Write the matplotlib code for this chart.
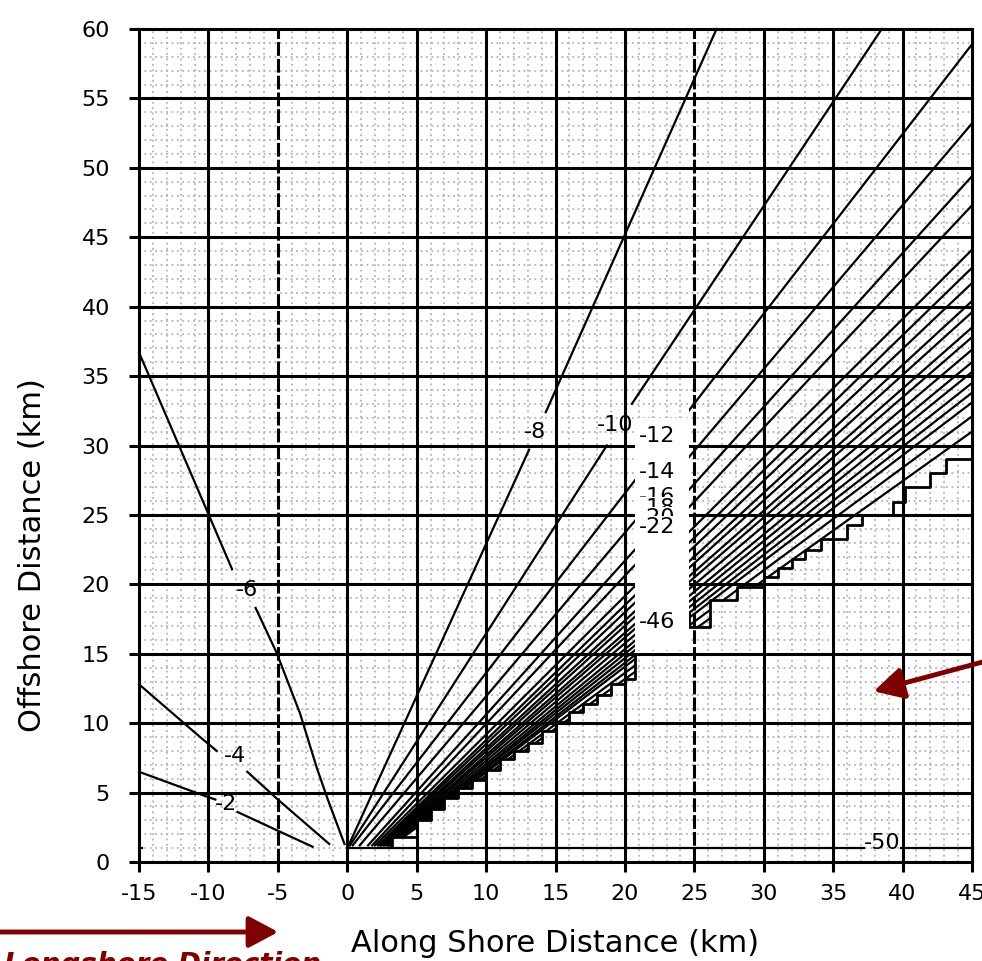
import numpy as np
import matplotlib
matplotlib.use("Agg")
import matplotlib.pyplot as plt
from matplotlib.patches import Polygon, Rectangle

plt.rcParams["font.family"] = ["DejaVu Sans"]
plt.rcParams["axes.unicode_minus"] = False

nan = np.nan

# Axis ticks
x_ticks = [-15, -10, -5, 0, 5, 10, 15, 20, 25, 30, 35, 40, 45]
y_ticks = [0, 5, 10, 15, 20, 25, 30, 35, 40, 45, 50, 55, 60]
dashed_x = [-5, 25]

# Contours on the up-coast side of the source (NaN = gap for the label)
c2_x = [-15.0, -10.1, -9.5, nan, -7.9, -5.1, -2.5]
c2_y = [6.5, 4.7, 4.5, nan, 3.6, 2.3, 1.1]
c4_x = [-15.0, -10.6, -9.4, nan, -7.2, -5.0, -1.3]
c4_y = [12.8, 9.0, 8.0, nan, 6.5, 4.5, 1.3]
c6_x = [-15.0, -8.3, nan, -6.6, -5.1, -3.4, -2.2, -1.4, -0.2]
c6_y = [36.7, 21.1, nan, 18.3, 15.1, 10.7, 6.8, 4.5, 1.3]
c8_x = [0.1, 13.1, nan, 14.3, 26.6]
c8_y = [1.2, 29.7, nan, 32.4, 60.0]
c10_x = [0.2, 18.7, nan, 20.5, 38.5]
c10_y = [1.2, 30.0, nan, 33.0, 60.0]
c50_x = [-15.0, -14.8, nan, 0.0, 37.2, nan, 39.9, 45.0]
c50_y = [1.0, 1.0, nan, 1.0, 1.0, nan, 1.0, 1.0]

single_levels = [-2, -4, -6, -8, -10, -50]
single_label_x = [-8.7, -8.1, -7.2, 13.5, 19.3, 38.5]
single_label_y = [4.2, 7.6, 19.6, 31.0, 31.5, 1.35]

# Dense fan of contours -12 ... -48: start on the source row, end at the x = 45 edge
fan_levels = [-12, -14, -16, -18, -20, -22, -24, -26, -28, -30,
              -32, -34, -36, -38, -40, -42, -44, -46, -48]
source_y = 1.2
fan_start_x = [0.4, 0.9, 1.5, 1.8, 2.0, 2.2, 2.3, 2.4, 2.5, 2.6,
               2.7, 2.8, 2.9, 3.0, 3.0, 3.1, 3.1, 3.2, 3.2]
fan_end_y = [58.9, 53.2, 49.4, 47.3, 44.1, 42.8, 41.7, 40.4, 39.6, 38.5,
             37.8, 36.9, 36.0, 35.3, 34.5, 33.8, 33.1, 32.1, 31.0]

# Stepped lower edge of the computed field
stair_left_x = [3.2, 3.2, 5.0, 6.0, 7.0, 8.0, 9.0, 10.0, 11.0, 12.0, 13.0,
                14.0, 15.0, 16.0, 17.0, 18.0, 19.0, 20.0, 20.7]
stair_left_y = [1.1, 1.8, 3.0, 3.8, 4.6, 5.3, 5.9, 6.6, 7.4, 8.0, 8.6,
                9.4, 10.1, 10.8, 11.4, 12.0, 12.8, 13.2, 15.0]
stair_right_x = [24.6, 24.6, 26.1, 28.1, 30.0, 31.0, 32.0, 33.0, 34.1,
                 36.0, 37.1, 39.3, 40.2, 42.0, 43.1, 45.0]
stair_right_y = [18.0, 16.9, 18.9, 19.8, 20.5, 21.2, 21.8, 22.5, 23.3,
                 24.3, 25.0, 25.9, 27.0, 28.0, 29.0, 29.8]

# Stacked labels in the label strip of the fan
strip_levels = [-12, -14, -16, -18, -20, -22, -46]
strip_label_y = [30.7, 28.1, 26.3, 25.5, 24.8, 24.1, 17.3]


def stair_vertices(xs, ys):
    verts = []
    for i in range(len(xs) - 1):
        verts.append((xs[i], ys[i]))
        verts.append((xs[i + 1], ys[i]))
    verts.append((xs[-1], ys[-1]))
    return verts


W, H = 982, 961
fig = plt.figure(figsize=(W / 100, H / 100), dpi=100)
ax = fig.add_axes([139 / W, 1 - 862 / H, (972 - 139) / W, (862 - 29) / H])
ax.set_xlim(-15, 45)
ax.set_ylim(0, 60)
for s in ax.spines.values():
    s.set_visible(False)

# Stippled background: fine dotted grid every kilometre
ax.set_xticks(np.arange(-15, 46, 1), minor=True)
ax.set_yticks(np.arange(0, 61, 1), minor=True)
ax.set_axisbelow(True)
ax.grid(which="minor", color="#b4b4b4", lw=1.3, ls=(0, (1, 2.0)))
ax.tick_params(which="minor", length=0)

# Major grid
for yv in y_ticks:
    ax.axhline(yv, color="k", lw=2.2, zorder=1.5, clip_on=False)
for xv in x_ticks:
    ls = (0, (4.5, 1.0)) if xv in dashed_x else "-"
    ax.axvline(xv, color="k", lw=2.2, ls=ls, zorder=1.5, clip_on=False)

ax.set_xticks(x_ticks)
ax.set_yticks(y_ticks)
ax.tick_params(which="major", direction="out", length=7.5, width=2.2,
               labelsize=16, colors="k")
ax.tick_params(axis="x", pad=8)
ax.tick_params(axis="y", pad=13.5)

lw_c = 1.6
# Single contours
singles_x = [c2_x, c4_x, c6_x, c8_x, c10_x, c50_x]
singles_y = [c2_y, c4_y, c6_y, c8_y, c10_y, c50_y]
for xs, ys, lev, lx, ly in zip(singles_x, singles_y, single_levels,
                               single_label_x, single_label_y):
    ax.plot(xs, ys, color="k", lw=lw_c, zorder=2, clip_on=False)
    ax.text(lx, ly, str(lev), fontsize=16, ha="center", va="center", zorder=4)

# Fan contours, split by the label strip and cut by the stepped edge
left_verts = [(-2, 0.6), (3.2, 0.6)] + stair_vertices(stair_left_x, stair_left_y) \
    + [(20.7, 62), (-2, 62)]
right_verts = stair_vertices(stair_right_x, stair_right_y) + \
    [(46, stair_right_y[-1]), (46, 62), (24.6, 62)]
left_clip = Polygon(left_verts, closed=True, transform=ax.transData)
right_clip = Polygon(right_verts, closed=True, transform=ax.transData)

for x0, ye in zip(fan_start_x, fan_end_y):
    for clip in (left_clip, right_clip):
        ln, = ax.plot([x0, 45], [source_y, ye], color="k", lw=lw_c, zorder=2)
        ln.set_clip_path(clip)

ax.step(stair_left_x, stair_left_y, where="post", color="k", lw=2.0, zorder=2)
ax.step(stair_right_x, stair_right_y, where="post", color="k", lw=2.0, zorder=2)

# Label strip
ax.add_patch(Rectangle((20.7, 15.3), 3.9, 16.7, facecolor="white",
                       edgecolor="none", zorder=3))
for i, (lev, ly) in enumerate(zip(strip_levels, strip_label_y)):
    ax.text(22.3, ly, str(lev), fontsize=16, ha="center", va="center",
            zorder=4 + i * 0.01,
            bbox=dict(boxstyle="square,pad=0.05", fc="white", ec="none"))

# Axis titles
fig.text(555 / W, 1 - 943 / H, "Along Shore Distance (km)", fontsize=22,
         ha="center", va="center")
fig.text(33 / W, 1 - 555 / H, "Offshore Distance (km)", fontsize=22,
         ha="center", va="center", rotation=90)

# Direction arrows and caption
red = "#800000"
ax.annotate("", xy=(281, H - 932), xytext=(-10, H - 932),
            xycoords="figure pixels", textcoords="figure pixels",
            arrowprops=dict(arrowstyle="-|>,head_length=0.6,head_width=0.32",
                            mutation_scale=30, color=red, lw=3.5),
            annotation_clip=False)
ax.annotate("", xy=(871, H - 692), xytext=(990, H - 660),
            xycoords="figure pixels", textcoords="figure pixels",
            arrowprops=dict(arrowstyle="-|>,head_length=0.6,head_width=0.32",
                            mutation_scale=30, color=red, lw=3.5),
            annotation_clip=False)
fig.text(4 / W, 1 - 951 / H, "Longshore Direction", fontsize=20,
         fontweight="bold", fontstyle="italic", color=red,
         ha="left", va="top")

fig.savefig("out.png", dpi=100)
